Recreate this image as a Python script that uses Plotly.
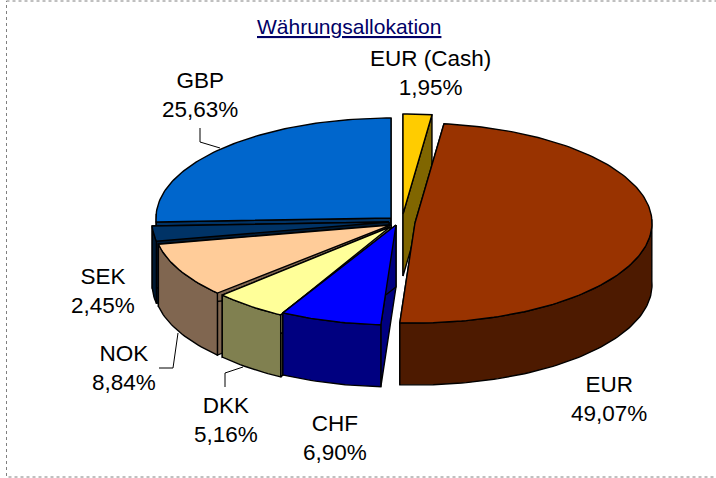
import numpy as np
import plotly.graph_objects as go

# Data
categories = ["EUR (Cash)", "EUR", "CHF", "DKK", "NOK", "SEK", "GBP"]
values = [1.95, 49.07, 6.90, 5.16, 8.84, 2.45, 25.63]
value_labels = ["1,95%", "49,07%", "6,90%", "5,16%", "8,84%", "2,45%", "25,63%"]
title = "Währungsallokation"

# Styles
top_colors = ["#FFCC00", "#993300", "#0000FF", "#FFFF99", "#FFCC99", "#003366", "#0066CC"]
side_colors = ["#806600", "#4D1A00", "#000080", "#808050", "#806650", "#001A33", "#003366"]

# Geometry of the projected pie (page pixels)
RY, DEPTH = 100.0, 62.0
radius_x = [237, 237, 237, 229, 237, 237, 235]
apex_x = [403, 415, 396, 390, 391, 389, 391]
apex_y = [214, 223, 225, 227, 225, 222, 218]
draw_order = [6, 5, 0, 1, 4, 3, 2]
label_x = [430, 609, 335, 226, 124, 103, 200]
label_y = [73, 399, 438, 420, 368, 291, 95]

fractions = np.array(values) / sum(values)
ends = np.cumsum(fractions) * 2 * np.pi
starts = ends - fractions * 2 * np.pi

fig = go.Figure()


def poly(xs, ys, color):
    xs, ys = list(xs), list(ys)
    fig.add_trace(go.Scatter(
        x=xs + xs[:1], y=ys + ys[:1], mode="lines", fill="toself", fillcolor=color,
        line=dict(color="#000000", width=1.4), showlegend=False, hoverinfo="skip"))


for i in draw_order:
    a0, a1, ax, ay, rx = starts[i], ends[i], apex_x[i], apex_y[i], radius_x[i]
    t = np.linspace(a0, a1, max(8, int((a1 - a0) * 50)))
    ex, ey = ax + rx * np.sin(t), ay - RY * np.cos(t)
    # cut faces
    for a in (a0, a1):
        px, py = ax + rx * np.sin(a), ay - RY * np.cos(a)
        poly([ax, px, px, ax], [ay, py, py + DEPTH, ay + DEPTH], side_colors[i])
    # outer wall (front half only)
    m = np.cos(t) <= 0.05
    if m.any():
        poly(np.r_[ex[m], ex[m][::-1]], np.r_[ey[m], ey[m][::-1] + DEPTH], side_colors[i])
    # top face
    poly(np.r_[ax, ex], np.r_[ay, ey], top_colors[i])

# leader lines
for lx, ly in [([200, 200, 220], [128, 142, 148]),
               ([159, 173, 178], [368, 368, 333]),
               ([225, 225, 243], [387, 373, 367])]:
    fig.add_trace(go.Scatter(x=lx, y=ly, mode="lines", line=dict(color="#000000", width=1),
                             showlegend=False, hoverinfo="skip"))

FONT = "Liberation Sans, Arial, sans-serif"
ann = [dict(x=label_x[i], y=label_y[i], text=f"{categories[i]}<br>{value_labels[i]}",
            showarrow=False, xref="x", yref="y", xanchor="center", yanchor="middle",
            font=dict(family=FONT, size=22.5, color="#000000"))
       for i in range(len(categories))]
ann.append(dict(x=349, y=26, text=f"<u>{title}</u>", showarrow=False, xref="x", yref="y",
                xanchor="center", yanchor="middle",
                font=dict(family=FONT, size=21, color="#000066")))

fig.update_layout(
    width=716, height=478, margin=dict(l=0, r=0, t=0, b=0),
    paper_bgcolor="#FFFFFF", plot_bgcolor="#FFFFFF",
    xaxis=dict(range=[0, 716], visible=False, fixedrange=True),
    yaxis=dict(range=[478, 0], visible=False, fixedrange=True),
    annotations=ann,
    shapes=[dict(type="rect", x0=6.5, y0=1, x1=722, y1=477, xref="x", yref="y",
                 line=dict(color="#808080", width=1, dash="dot"))],
)
fig.write_html("out.html", config={"displayModeBar": False},
               post_script="document.body.style.margin='0';document.body.style.overflow='hidden';")
